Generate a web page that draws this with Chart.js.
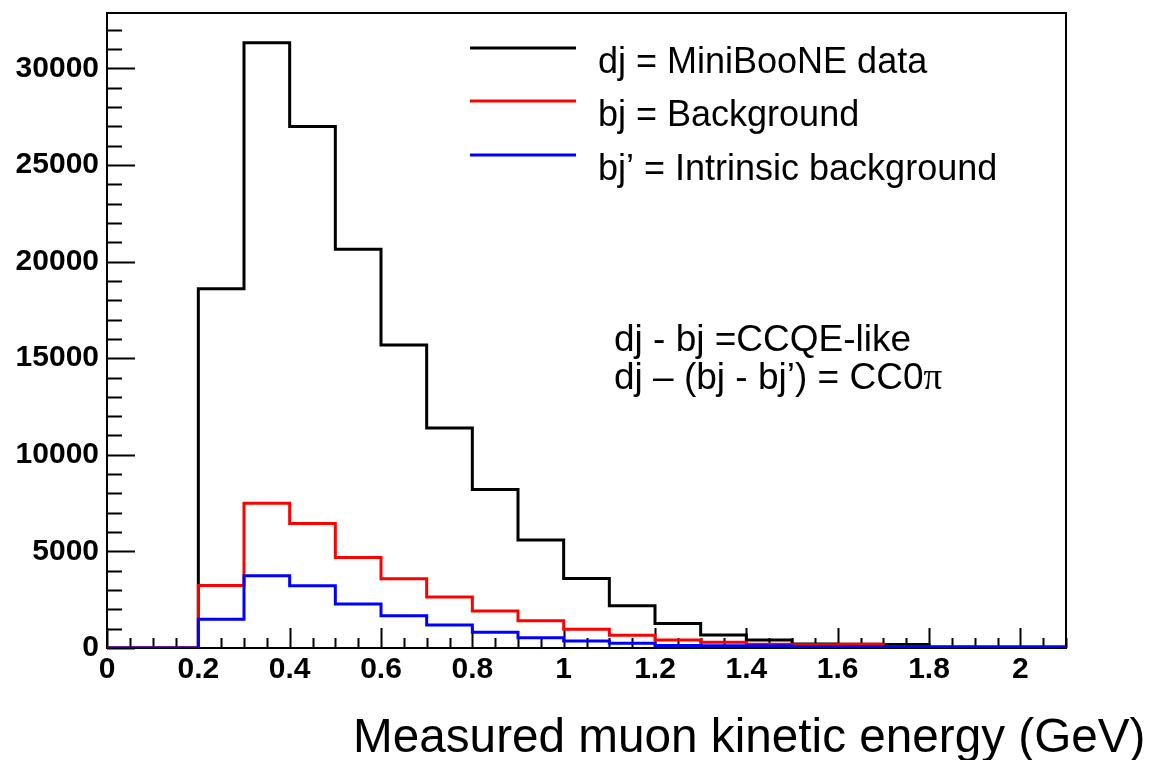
<!DOCTYPE html>
<html>
<head>
<meta charset="utf-8">
<title>Measured muon kinetic energy</title>
<script src="https://cdn.jsdelivr.net/npm/chart.js@4.4.0/dist/chart.umd.min.js"></script>
<style>
  html, body { margin: 0; padding: 0; background: #fff; }
  #wrap { width: 1151px; height: 760px; position: relative; }
</style>
</head>
<body>
<div id="wrap"><canvas id="histo" width="1151" height="760"></canvas></div>
<script>
// bin edges (GeV), 21 bins of 0.1
const binEdges = [0, 0.1, 0.2, 0.3, 0.4, 0.5, 0.6, 0.7, 0.8, 0.9, 1.0,
  1.1, 1.2, 1.3, 1.4, 1.5, 1.6, 1.7, 1.8, 1.9, 2.0, 2.1];

// counts per bin
const dataCounts = [0, 0, 18600, 31330, 27000, 20640, 15680, 11390, 8210, 5590, 3600,
  2190, 1270, 670, 410, 210, 190, 180, 0, 0, 0];
const bkgCounts = [0, 0, 3230, 7490, 6450, 4690, 3590, 2640, 1915, 1415, 965,
  655, 410, 300, 200, 170, 190, 60, 40, 20, 0];
const intrinsicCounts = [0, 0, 1485, 3740, 3225, 2277, 1673, 1190, 812, 535, 362,
  240, 130, 120, 110, 60, 60, 60, 60, 60, 60];

const seriesLabels = ["dj = MiniBooNE data", "bj = Background", "bj\u2019 = Intrinsic background"];
const seriesColors = ["#000000", "#ff0000", "#0000ff"];

// labelled ticks
const xTickValues = [0, 0.2, 0.4, 0.6, 0.8, 1, 1.2, 1.4, 1.6, 1.8, 2];
const yTickValues = [0, 5000, 10000, 15000, 20000, 25000, 30000];

const yMax = 32870;

// step points: one per low edge plus the last upper edge
function toSteps(counts) {
  const pts = counts.map((c, i) => ({ x: binEdges[i], y: c }));
  pts.push({ x: binEdges[binEdges.length - 1], y: counts[counts.length - 1] });
  return pts;
}

const tickFont = { family: "'Liberation Sans', Arial, sans-serif", size: 30, weight: "bold" };

// ROOT-like frame, inward ticks, legend and texts
const rootStyle = {
  id: "rootStyle",
  beforeDatasetsDraw(chart) {
    const ctx = chart.ctx;
    const a = chart.chartArea;
    const xs = chart.scales.x, ys = chart.scales.y;
    ctx.save();
    ctx.strokeStyle = "#000";
    ctx.lineWidth = 2;
    ctx.strokeRect(a.left, a.top, a.right - a.left, a.bottom - a.top);

    // y ticks
    for (let v = 0; v <= yMax; v += 1000) {
      const py = Math.round(ys.getPixelForValue(v)) + 0.5;
      const len = v % 5000 === 0 ? 28 : 15;
      ctx.beginPath();
      ctx.moveTo(a.left, py);
      ctx.lineTo(a.left + len, py);
      ctx.stroke();
    }
    // x ticks
    for (let i = 0; i <= 42; i++) {
      const v = i * 0.05;
      const px = Math.round(xs.getPixelForValue(v)) + 0.5;
      const len = i % 4 === 0 ? 20 : 10;
      ctx.beginPath();
      ctx.moveTo(px, a.bottom);
      ctx.lineTo(px, a.bottom - len);
      ctx.stroke();
    }
    ctx.restore();
  },
  afterDraw(chart) {
    const ctx = chart.ctx;
    ctx.save();
    // legend
    const legY = [48, 101, 155];
    ctx.lineWidth = 3;
    ctx.font = "36px 'Liberation Sans', Arial, sans-serif";
    ctx.textBaseline = "alphabetic";
    ctx.textAlign = "left";
    for (let i = 0; i < seriesLabels.length; i++) {
      ctx.strokeStyle = seriesColors[i];
      ctx.beginPath();
      ctx.moveTo(470, legY[i]);
      ctx.lineTo(576, legY[i]);
      ctx.stroke();
      ctx.fillStyle = "#000";
      ctx.fillText(seriesLabels[i], 598, legY[i] + 25);
    }

    // annotation
    ctx.font = "37px 'Liberation Sans', Arial, sans-serif";
    ctx.fillText("dj - bj =CCQE-like", 614, 351);
    const line2 = "dj \u2013 (bj - bj\u2019) = CC0";
    ctx.fillText(line2, 614, 389);
    const w = ctx.measureText(line2).width;
    ctx.font = "37px 'Liberation Serif', 'Times New Roman', serif";
    ctx.fillText("\u03c0", 614 + w, 389);

    // x axis title
    ctx.font = "47.7px 'Liberation Sans', Arial, sans-serif";
    ctx.fillText("Measured muon kinetic energy (GeV)", 353, 752);
    ctx.restore();
  }
};

const ctx = document.getElementById("histo").getContext("2d");
new Chart(ctx, {
  type: "line",
  data: {
    datasets: [
      { label: seriesLabels[0], data: toSteps(dataCounts), borderColor: seriesColors[0], order: 3 },
      { label: seriesLabels[1], data: toSteps(bkgCounts), borderColor: seriesColors[1], order: 2 },
      { label: seriesLabels[2], data: toSteps(intrinsicCounts), borderColor: seriesColors[2], order: 1 }
    ]
  },
  options: {
    responsive: false,
    animation: false,
    devicePixelRatio: 1,
    elements: {
      // horizontal at the bin value, then vertical at the next edge
      line: { stepped: "before", borderWidth: 3, fill: false, tension: 0 },
      point: { radius: 0 }
    },
    layout: { padding: { top: 13, right: 85, left: 0, bottom: 0 } },
    plugins: { legend: { display: false }, tooltip: { enabled: false } },
    scales: {
      x: {
        type: "linear",
        min: 0,
        max: 2.1,
        grid: { display: false },
        border: { display: false },
        ticks: {
          autoSkip: false,
          maxRotation: 0,
          padding: -4,
          color: "#000",
          font: tickFont,
          callback: v => String(Math.round(v * 10) / 10)
        },
        afterBuildTicks(s) { s.ticks = xTickValues.map(v => ({ value: v })); },
        afterFit(s) { s.height = 112; s.paddingLeft = 0; s.paddingRight = 0; }
      },
      y: {
        min: 0,
        max: yMax,
        grid: { display: false },
        border: { display: false },
        ticks: {
          padding: 0,
          color: "#000",
          font: tickFont,
          callback: v => String(v)
        },
        afterBuildTicks(s) { s.ticks = yTickValues.map(v => ({ value: v })); },
        afterFit(s) { s.width = 107; s.paddingTop = 0; s.paddingBottom = 0; }
      }
    }
  },
  plugins: [rootStyle]
});
</script>
</body>
</html>
